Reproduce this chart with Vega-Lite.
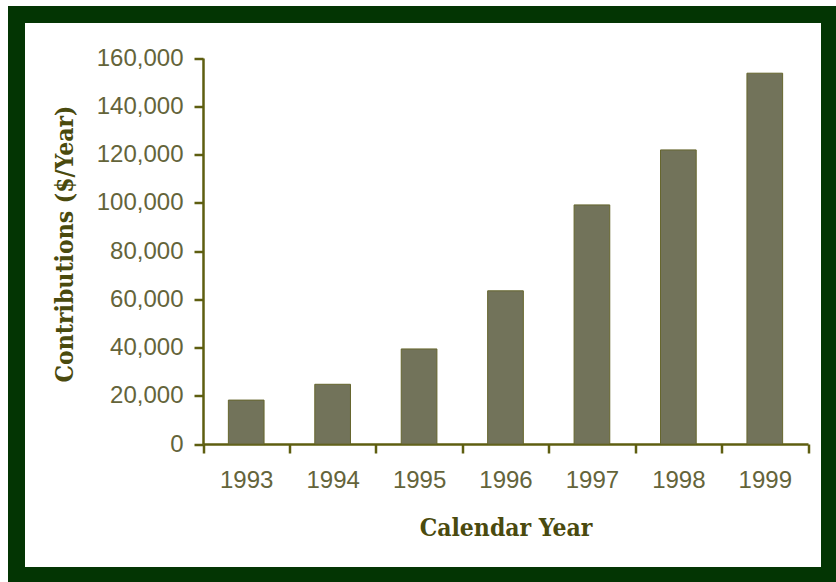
{
  "$schema": "https://vega.github.io/schema/vega-lite/v6.json",
  "width": 813,
  "height": 561,
  "autosize": {"type": "none"},
  "padding": {"left": 16.5, "top": 14.5, "right": 6.5, "bottom": 6.5},
  "background": "#ffffff",
  "config": {"view": {"fill": "#ffffff", "stroke": "#033503", "strokeWidth": 17}},
  "data": {
    "values": [
      {"year": "1993", "contributions": 18200},
      {"year": "1994", "contributions": 24750},
      {"year": "1995", "contributions": 39400},
      {"year": "1996", "contributions": 63500},
      {"year": "1997", "contributions": 99100},
      {"year": "1998", "contributions": 121900},
      {"year": "1999", "contributions": 153700}
    ]
  },
  "mark": {"type": "bar", "width": {"band": 0.413}, "fill": "#72735a", "stroke": "#66662e", "strokeWidth": 1},
  "encoding": {
    "x": {
      "field": "year",
      "type": "ordinal",
      "scale": {"range": [186.5, 791.5], "paddingInner": 0, "paddingOuter": 0},
      "axis": {
        "orient": "bottom",
        "offset": -131.5,
        "tickBand": "extent",
        "tickSize": 9,
        "tickWidth": 2.5,
        "tickColor": "#5e5e10",
        "domainWidth": 2.5,
        "domainColor": "#5e5e10",
        "labelFont": "Liberation Sans",
        "labelFontSize": 24,
        "labelColor": "#64643a",
        "labelPadding": 15,
        "labelAngle": 0,
        "title": "Calendar Year",
        "titleFont": "DejaVu Serif Condensed",
        "titleFontWeight": "bold",
        "titleFontSize": 24.5,
        "titleColor": "#4a4a0e",
        "titleBaseline": "middle",
        "titleY": 84
      }
    },
    "y": {
      "field": "contributions",
      "type": "quantitative",
      "scale": {"domain": [0, 160000], "range": [429.5, 43.5], "nice": false},
      "axis": {
        "offset": -186.5,
        "values": [0, 20000, 40000, 60000, 80000, 100000, 120000, 140000, 160000],
        "format": ",d",
        "grid": false,
        "tickSize": 9,
        "tickWidth": 2.5,
        "tickColor": "#5e5e10",
        "domainWidth": 2.5,
        "domainColor": "#5e5e10",
        "labelFont": "Liberation Sans",
        "labelFontSize": 24,
        "labelColor": "#64643a",
        "labelPadding": 11,
        "title": "Contributions ($/Year)",
        "titleFont": "DejaVu Serif Condensed",
        "titleFontWeight": "bold",
        "titleFontSize": 24.5,
        "titleColor": "#4a4a0e",
        "titleAngle": -90,
        "titleBaseline": "middle",
        "titleAlign": "center",
        "titleX": -138,
        "titleY": 229
      }
    }
  }
}
